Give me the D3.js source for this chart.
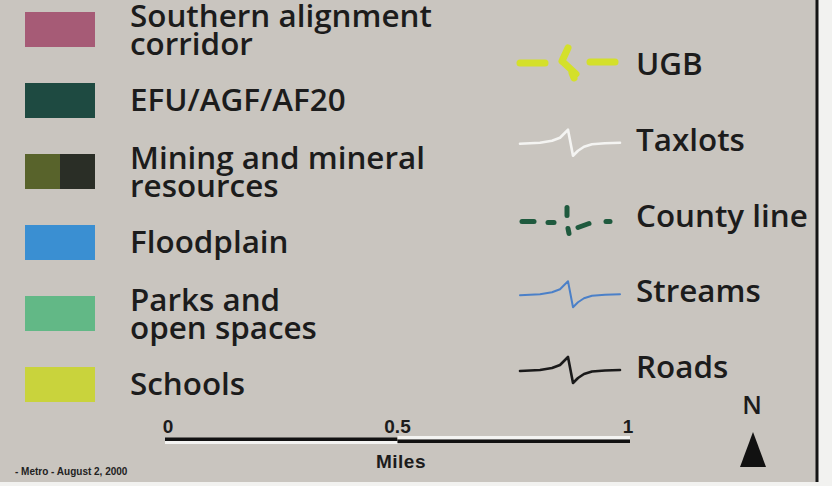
<!DOCTYPE html>
<html><head><meta charset="utf-8">
<script src="https://cdn.jsdelivr.net/npm/d3@7/dist/d3.min.js"></script>
<style>html,body{margin:0;padding:0;background:#f2f2f0;}svg{display:block;}</style>
</head><body>
<svg id="c" width="832" height="486"></svg>
<script>
// ---- data ----
const areaLabels = [["Southern alignment","corridor"],["EFU/AGF/AF20"],["Mining and mineral","resources"],["Floodplain"],["Parks and","open spaces"],["Schools"]];
const areaColors = [["#a65b76"],["#1e4a41"],["#58632b","#2a2e26"],["#3a8fd2"],["#62b886"],["#c9d33c"]];
const lineLabels = ["UGB","Taxlots","County line","Streams","Roads"];
const lineColors = ["#d4e02a","#f4f4f2","#1f5a3e","#4b80c8","#1a1a1a"];
const lineKinds  = ["ugb","kink","county","kink","kink"];
const scaleTicks = [0, 0.5, 1];
const scaleUnit  = "Miles";
const credit     = "- Metro - August 2, 2000";

const svg = d3.select("#c");
const font = "'Open Sans', 'Noto Sans', sans-serif";
const ink = "#1c1c1c";

// panel
svg.append("rect").attr("x",0).attr("y",0).attr("width",818).attr("height",482).attr("fill","#c9c5bf");
svg.append("line").attr("x1",817).attr("x2",817).attr("y1",0).attr("y2",482).attr("stroke","#141414").attr("stroke-width",3);

// scales
const rowY  = d3.scaleLinear().domain([0, areaLabels.length-1]).range([12, 367]);
const lineY = d3.scaleLinear().domain([0, lineLabels.length-1]).range([75, 378]);
const miles = d3.scaleLinear().domain([0,1]).range([165, 630]);

// area legend
const ag = svg.append("g");
areaLabels.forEach((lab,i)=>{
  const cols = areaColors[i];
  const sw = d3.scaleBand().domain(d3.range(cols.length)).range([25,95]);
  cols.forEach((c,j)=>{
    ag.append("rect").attr("x",sw(j)).attr("y",rowY(i)).attr("width",sw.bandwidth()).attr("height",35).attr("fill",c);
  });
  const y0 = rowY(i) + (lab.length===2 ? 15 : 28);
  const t = ag.append("text").attr("class","lbl").attr("x",130).attr("y",y0);
  lab.forEach((s,k)=>{
    t.append("tspan").attr("x",130).attr("y",y0 + k*28).text(s);
  });
});

// line legend
const lg = svg.append("g");
const kink = d3.line();
const kinkPts = [[0,0],[20,-1],[32,-3],[40,-6],[46,-12],[48,-14],[53,12],[58,7],[64,3],[72,0.5],[85,-0.5],[100,-1]];
lineLabels.forEach((lab,i)=>{
  const by = lineY(i);
  const x0 = 520;
  if(lineKinds[i]==="kink"){
    const ly = by - 7;
    lg.append("path").attr("d", kink(kinkPts.map(p=>[x0+p[0], ly+p[1]])))
      .attr("fill","none").attr("stroke",lineColors[i]).attr("stroke-width", i===3?2:2.6)
      .attr("stroke-linejoin","round").attr("stroke-linecap","round");
  } else if(lineKinds[i]==="ugb"){
    const ly = by - 12;
    const segs = [[[0,0],[25,0]],[[48,-15],[42,-2]],[[43,-1],[56,11]],[[52,10],[54,15]],[[70,-1],[95,-1]]];
    segs.forEach(s=>lg.append("line").attr("x1",x0+s[0][0]).attr("y1",ly+s[0][1]).attr("x2",x0+s[1][0]).attr("y2",ly+s[1][1])
      .attr("stroke",lineColors[i]).attr("stroke-width",7).attr("stroke-linecap","round"));
  } else {
    const ly = by - 5;
    const segs = [[[2,0],[14,0]],[[28,1],[34,1]],[[47,-14],[47,-6]],[[48,7],[49,12]],[[58,6],[69,2]],[[86,0],[90,0]]];
    segs.forEach(s=>lg.append("line").attr("x1",x0+s[0][0]).attr("y1",ly+s[0][1]).attr("x2",x0+s[1][0]).attr("y2",ly+s[1][1])
      .attr("stroke",lineColors[i]).attr("stroke-width",5).attr("stroke-linecap","round"));
  }
  lg.append("text").attr("class","lbl").attr("x",636).attr("y",by).text(lab);
});

// label font size fitted to the reference width of "Southern alignment"
const lbls = svg.selectAll(".lbl").attr("font-family",font).attr("font-weight",600).attr("fill",ink).attr("font-size",27);
const probe = ag.select(".lbl tspan").node().getComputedTextLength();
lbls.attr("font-size", 27*302/probe);

// scale bar
const sb = svg.append("g");
const h0 = miles(0), h5 = miles(0.5), h1 = miles(1);
sb.append("rect").attr("x",h0).attr("y",437.5).attr("width",h5-h0).attr("height",3.5).attr("fill","#111");
sb.append("rect").attr("x",h0).attr("y",441).attr("width",h5-h0).attr("height",3).attr("fill","#f4f4f2");
sb.append("rect").attr("x",h5).attr("y",436).attr("width",h1-h5).attr("height",3.5).attr("fill","#f4f4f2");
sb.append("rect").attr("x",h5).attr("y",439.5).attr("width",h1-h5).attr("height",3.5).attr("fill","#111");
const sFont = "'Liberation Sans', Arial, sans-serif";
sb.selectAll("text.tk").data(scaleTicks).join("text").attr("class","tk")
  .attr("x",d=>miles(d)+(d===0?3:d===1?-2:0)).attr("y",433).attr("text-anchor","middle")
  .attr("font-family",sFont).attr("font-weight",700).attr("font-size",19).attr("fill",ink)
  .text(d=>d3.format("")(d));
sb.append("text").attr("x",401).attr("y",468).attr("text-anchor","middle").attr("letter-spacing",0.5)
  .attr("font-family",sFont).attr("font-weight",700).attr("font-size",19).attr("fill",ink).text(scaleUnit);

// north arrow
svg.append("text").attr("x",752).attr("y",414).attr("text-anchor","middle")
  .attr("font-family",font).attr("font-weight",600).attr("font-size",25).attr("fill",ink).text("N");
svg.append("path").attr("d","M753,432L766,467L740,467Z").attr("fill","#111");

// credit
svg.append("text").attr("x",15).attr("y",475).attr("font-family",sFont)
  .attr("font-weight",700).attr("font-size",10).attr("fill","#222").text(credit);
</script>
</body></html>
